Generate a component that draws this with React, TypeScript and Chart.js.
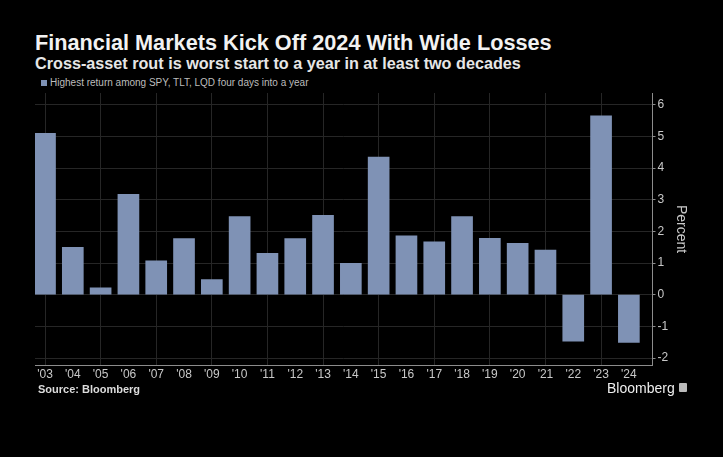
import React, { useEffect, useRef } from "react";
import { Chart, registerables } from "chart.js";

Chart.register(...registerables);

const years = ["'03", "'04", "'05", "'06", "'07", "'08", "'09", "'10", "'11", "'12", "'13", "'14", "'15", "'16", "'17", "'18", "'19", "'20", "'21", "'22", "'23", "'24"];
const returns = [5.1, 1.5, 0.22, 3.17, 1.07, 1.77, 0.48, 2.47, 1.31, 1.77, 2.51, 0.99, 4.35, 1.86, 1.67, 2.47, 1.78, 1.62, 1.41, -1.47, 5.65, -1.51];
const yTickLabels = [-2, -1, 0, 1, 2, 3, 4, 5, 6];

const TITLE = "Financial Markets Kick Off 2024 With Wide Losses";
const SUBTITLE = "Cross-asset rout is worst start to a year in at least two decades";
const LEGEND = "Highest return among SPY, TLT, LQD four days into a year";
const SOURCE = "Source: Bloomberg";

const BAR = "#7f92b5";
const GRID = "#262626";
const AXIS = "#8c8c8c";
const TICK_TEXT = "#c8c8c8";
const FONT = "'Liberation Sans', Arial, sans-serif";

export default function App() {
  const ref = useRef<HTMLCanvasElement | null>(null);

  useEffect(() => {
    document.body.style.margin = "0";
    document.body.style.background = "#000";
    const canvas = ref.current;
    if (!canvas) return;
    const chart = new Chart(canvas, {
      type: "bar",
      data: {
        datasets: [
          {
            label: LEGEND,
            data: returns.map((v, i) => ({ x: i, y: v })),
            backgroundColor: BAR,
            borderWidth: 0,
            barThickness: 21,
          },
        ],
      },
      options: {
        animation: false,
        responsive: false,
        maintainAspectRatio: false,
        layout: { padding: { top: 93, left: 35, right: 30, bottom: 62 } },
        plugins: {
          legend: { display: false },
          tooltip: { enabled: false },
          title: { display: false },
        },
        scales: {
          x: {
            type: "linear",
            min: -0.36,
            max: 21.85,
            offset: false,
            afterBuildTicks: (axis: any) => {
              axis.ticks = years.map((_, i) => ({ value: i }));
            },
            afterFit: (axis: any) => {
              axis.height = 30;
            },
            ticks: {
              autoSkip: false,
              maxRotation: 0,
              minRotation: 0,
              padding: 2,
              color: TICK_TEXT,
              font: { family: FONT, size: 12 },
              callback: (v: any) => years[Math.round(Number(v))] ?? "",
            },
            grid: {
              offset: false,
              drawTicks: false,
              color: (ctx: any) => (ctx.tick && Math.round(ctx.tick.value) % 2 === 0 ? GRID : "rgba(0,0,0,0)"),
              lineWidth: 1,
            },
            border: { display: true, color: AXIS, width: 1 },
          },
          y: {
            position: "right",
            min: -2.22,
            max: 6.37,
            afterBuildTicks: (axis: any) => {
              const t: any[] = [];
              yTickLabels.forEach((v, i) => {
                t.push({ value: v });
                if (i < yTickLabels.length - 1) t.push({ value: v + 0.5 });
              });
              axis.ticks = t;
            },
            afterFit: (axis: any) => {
              axis.width = 40.5;
            },
            ticks: {
              padding: 2,
              color: TICK_TEXT,
              font: { family: FONT, size: 12 },
              callback: (v: any) => (Number.isInteger(Number(v)) ? String(v) : ""),
            },
            grid: {
              tickLength: 3,
              color: (ctx: any) => (ctx.tick && Number.isInteger(ctx.tick.value) ? GRID : "rgba(0,0,0,0)"),
              tickColor: AXIS,
            },
            border: { display: true, color: AXIS, width: 1 },
            title: {
              display: true,
              text: "Percent",
              color: TICK_TEXT,
              font: { family: FONT, size: 14 },
              padding: { top: 4, bottom: 4 },
            },
          },
        },
      },
    });
    return () => chart.destroy();
  }, []);

  return (
    <div style={{ position: "fixed", left: 0, top: 0, width: 723, height: 457, background: "#000", overflow: "hidden" }}>
      <div style={{ position: "absolute", left: 35, top: 32, fontFamily: FONT, fontWeight: 700, fontSize: 21.7, lineHeight: "22px", color: "#f2f2f2", whiteSpace: "nowrap" }}>{TITLE}</div>
      <div style={{ position: "absolute", left: 35, top: 55, fontFamily: FONT, fontWeight: 700, fontSize: 16.2, lineHeight: "16px", color: "#e6e6e6", whiteSpace: "nowrap" }}>{SUBTITLE}</div>
      <div style={{ position: "absolute", left: 41, top: 80, width: 6, height: 6, background: BAR }} />
      <div style={{ position: "absolute", left: 50, top: 77, fontFamily: FONT, fontSize: 10, lineHeight: "12px", color: "#bdbdbd", whiteSpace: "nowrap" }}>{LEGEND}</div>
      <canvas ref={ref} width={723} height={457} style={{ position: "absolute", left: 0, top: 0 }} />
      <div style={{ position: "absolute", left: 38, top: 383, fontFamily: FONT, fontWeight: 700, fontSize: 11, lineHeight: "13px", color: "#dcdcdc", whiteSpace: "nowrap" }}>{SOURCE}</div>
      <div style={{ position: "absolute", left: 607, top: 380, fontFamily: FONT, fontSize: 14, lineHeight: "16px", color: "#eeeeee", whiteSpace: "nowrap" }}>Bloomberg</div>
      <div style={{ position: "absolute", left: 679, top: 383, width: 8, height: 9, background: "#bbbbbb", borderRadius: 1 }} />
    </div>
  );
}
